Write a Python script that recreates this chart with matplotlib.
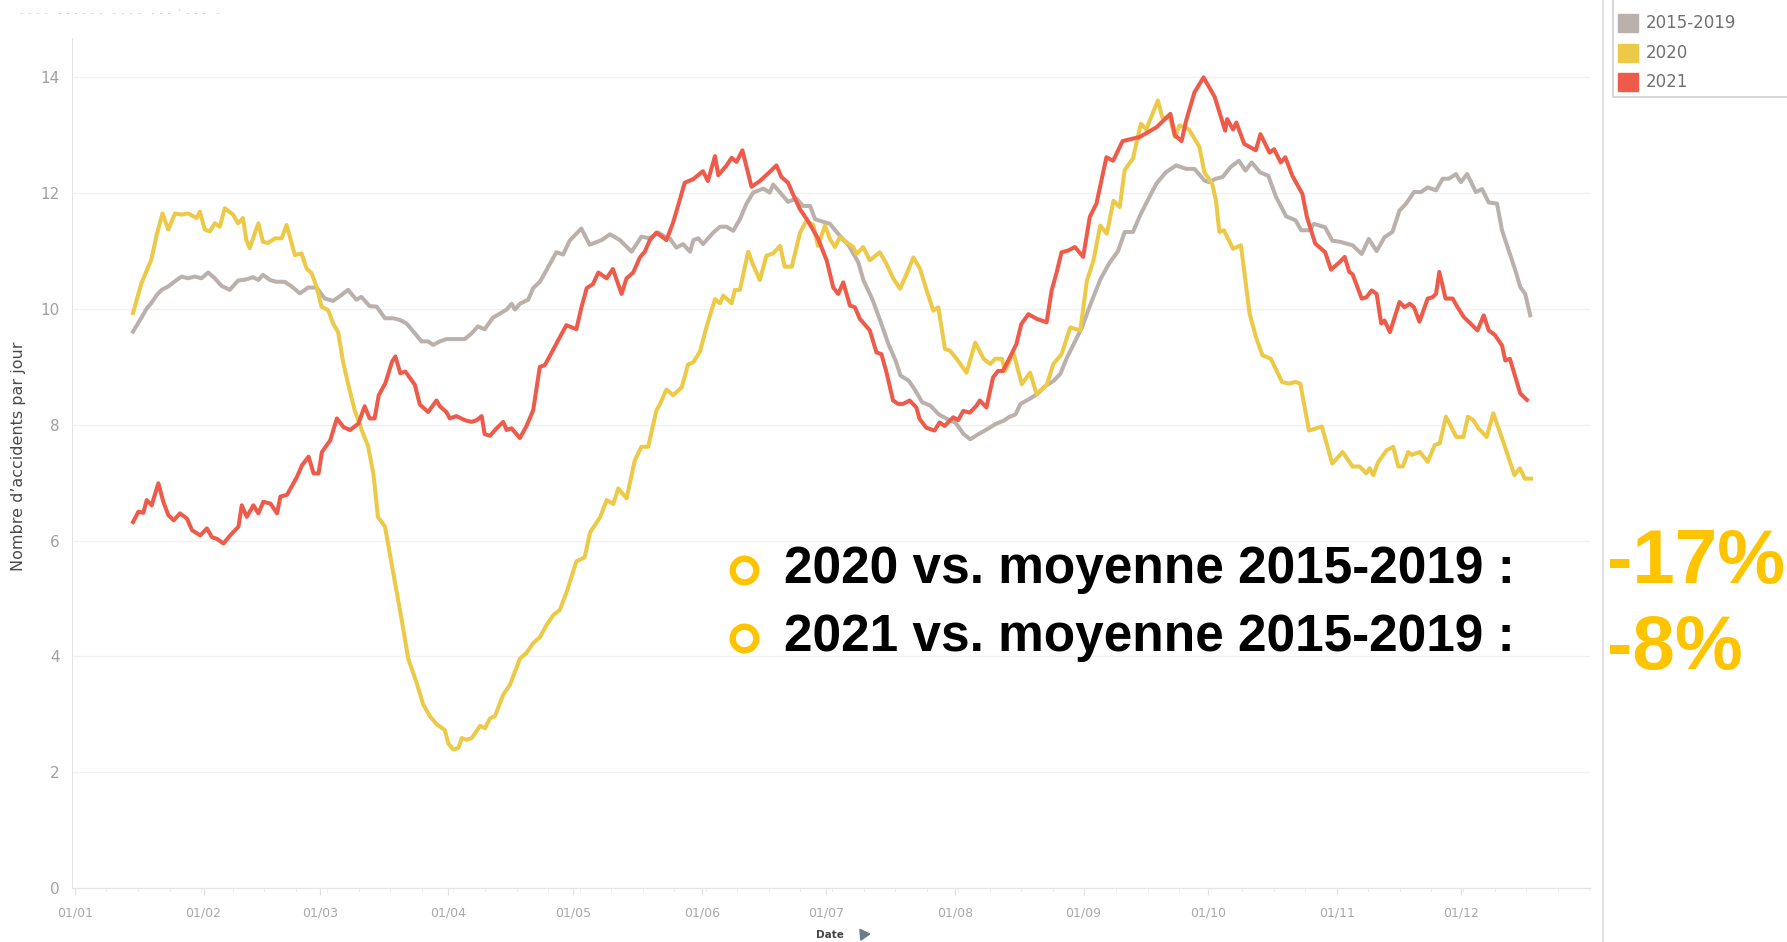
import matplotlib.pyplot as plt
import matplotlib.ticker as mtick
from matplotlib.lines import Line2D
from matplotlib.patches import Rectangle

# Daily accidents, rolling average, x = day of year (0 = 1 January)
days_ref = [
    14.0, 15.7, 17.3, 18.4, 19.7, 20.9, 22.5, 24.5, 25.7, 27.2,
    28.9, 30.5, 32.1, 33.7, 35.3, 37.3, 39.3, 41.3, 42.9, 44.2,
    45.3, 47.0, 48.5, 50.5, 52.2, 54.2, 56.2, 58.2, 60.2, 62.2,
    64.2, 65.8, 67.8, 69.0, 71.0, 72.7, 74.7, 76.6, 78.3, 79.9,
    81.9, 83.5, 85.1, 86.3, 87.9, 89.5, 91.9, 93.9, 95.6, 97.1,
    98.7, 100.7, 102.4, 104.0, 105.2, 106.0, 107.2, 109.2, 110.4, 112.0,
    113.6, 116.0, 117.6, 119.2, 122.0, 124.0, 126.9, 128.9, 131.3, 134.1,
    136.5, 138.5, 140.5, 142.1, 143.3, 144.9, 146.5, 148.2, 149.0, 150.2,
    151.3, 153.8, 155.4, 157.0, 158.6, 160.2, 161.8, 163.4, 165.8, 167.4,
    168.2, 169.9, 171.8, 173.8, 175.4, 177.1, 178.3, 181.9, 184.2, 186.4,
    188.7, 190.0, 192.1, 194.0, 196.0, 197.7, 198.9, 200.9, 202.5, 204.1,
    206.1, 208.1, 210.1, 212.1, 214.1, 215.7, 217.7, 219.7, 221.7, 223.7,
    225.0, 226.6, 227.8, 229.8, 231.8, 233.8, 235.8, 237.4, 239.0, 240.6,
    242.6, 244.7, 247.1, 249.1, 251.3, 252.9, 254.9, 256.5, 258.4, 260.5,
    262.8, 265.3, 267.7, 269.7, 272.1, 273.2, 274.9, 276.5, 278.4, 280.4,
    282.0, 283.5, 285.5, 287.5, 289.4, 291.8, 294.1, 295.4, 297.4, 298.5,
    301.2, 302.9, 304.8, 307.8, 310.0, 311.7, 313.6, 315.5, 317.4, 319.1,
    320.7, 322.6, 324.3, 325.9, 327.9, 329.5, 331.0, 332.7, 333.9, 335.4,
    337.5, 339.0, 340.6, 342.6, 343.8, 347.0, 348.2, 349.4, 350.6,
]
acc_ref = [
    9.61, 9.81, 10.01, 10.1, 10.24, 10.33, 10.39, 10.5, 10.56, 10.53,
    10.56, 10.53, 10.63, 10.53, 10.4, 10.33, 10.49, 10.51, 10.55, 10.5,
    10.59, 10.5, 10.47, 10.47, 10.39, 10.27, 10.37, 10.37, 10.18, 10.14,
    10.24, 10.33, 10.16, 10.21, 10.05, 10.04, 9.84, 9.84, 9.81, 9.75,
    9.58, 9.44, 9.44, 9.38, 9.44, 9.48, 9.48, 9.48, 9.58, 9.7,
    9.65, 9.85, 9.92, 9.99, 10.09, 9.99, 10.09, 10.16, 10.36, 10.47,
    10.67, 10.98, 10.94, 11.18, 11.39, 11.11, 11.19, 11.29, 11.19, 10.99,
    11.25, 11.22, 11.32, 11.25, 11.22, 11.06, 11.12, 10.99, 11.19, 11.22,
    11.12, 11.32, 11.42, 11.42, 11.35, 11.55, 11.82, 12.01, 12.08, 12.01,
    12.15, 12.01, 11.85, 11.91, 11.78, 11.78, 11.55, 11.47, 11.27, 11.1,
    10.81, 10.49, 10.17, 9.8, 9.39, 9.11, 8.85, 8.76, 8.59, 8.39,
    8.33, 8.18, 8.1, 8.04, 7.84, 7.75, 7.84, 7.92, 8.01, 8.07,
    8.13, 8.18, 8.36, 8.44, 8.53, 8.67, 8.76, 8.88, 9.16, 9.39,
    9.68, 10.09, 10.52, 10.78, 11.0, 11.33, 11.33, 11.6, 11.87, 12.16,
    12.36, 12.48, 12.42, 12.42, 12.22, 12.19, 12.25, 12.28, 12.45, 12.56,
    12.39, 12.53, 12.36, 12.3, 11.93, 11.6, 11.53, 11.36, 11.36, 11.47,
    11.41, 11.18, 11.16, 11.1, 10.95, 11.21, 11.0, 11.24, 11.33, 11.7,
    11.82, 12.02, 12.02, 12.1, 12.05, 12.25, 12.25, 12.33, 12.19, 12.33,
    12.02, 12.07, 11.84, 11.82, 11.36, 10.67, 10.38, 10.26, 9.89,
]

days_2020 = [
    14.0, 16.0, 18.4, 19.7, 21.1, 22.5, 24.1, 25.7, 27.3, 29.3,
    30.1, 31.3, 32.5, 33.7, 34.9, 36.1, 38.1, 39.3, 40.5, 41.3,
    42.1, 44.2, 45.3, 46.5, 48.2, 49.8, 51.0, 53.0, 54.6, 55.8,
    57.0, 58.2, 59.4, 61.0, 62.2, 63.4, 64.6, 65.8, 67.4, 69.4,
    70.6, 71.9, 73.0, 74.7, 76.3, 77.9, 78.7, 80.3, 82.3, 83.9,
    85.5, 87.1, 89.1, 90.0, 91.2, 92.4, 93.2, 94.4, 95.6, 97.6,
    98.8, 100.0, 101.2, 103.2, 104.8, 107.2, 108.8, 110.4, 112.0, 113.6,
    115.2, 116.8, 118.5, 120.8, 122.8, 124.1, 126.5, 128.1, 129.7, 130.9,
    132.9, 134.9, 136.5, 138.1, 140.1, 140.9, 142.5, 144.1, 146.2, 147.7,
    149.0, 150.6, 152.2, 154.2, 155.4, 156.2, 158.2, 159.0, 160.2, 162.2,
    163.4, 165.0, 166.6, 168.2, 169.9, 171.0, 172.7, 174.7, 176.2, 177.9,
    179.0, 180.7, 181.9, 183.1, 184.3, 185.9, 187.5, 188.3, 189.9, 191.5,
    193.9, 195.5, 197.2, 198.8, 200.4, 202.0, 203.6, 205.2, 206.8, 208.0,
    209.6, 210.8, 212.4, 214.8, 216.9, 218.9, 220.5, 221.7, 223.3, 224.1,
    226.1, 228.1, 230.1, 231.7, 234.2, 235.7, 237.7, 239.8, 242.2, 243.8,
    245.4, 247.0, 248.6, 250.2, 251.7, 252.9, 254.9, 256.8, 258.1, 259.2,
    260.9, 262.0, 263.8, 265.0, 266.1, 268.4, 270.9, 272.1, 274.0, 274.9,
    275.7, 276.8, 279.0, 280.9, 283.0, 284.5, 286.1, 288.1, 290.8, 292.4,
    294.1, 295.2, 297.3, 300.4, 302.9, 305.4, 307.8, 309.5, 311.1, 311.9,
    312.8, 314.0, 316.0, 317.6, 318.8, 319.9, 321.2, 322.0, 324.0, 325.9,
    327.6, 328.8, 330.3, 332.8, 334.5, 335.6, 336.9, 338.1, 340.1, 341.7,
    343.7, 345.3, 346.8, 348.1, 349.3, 350.8,
]
acc_2020 = [
    9.93, 10.44, 10.85, 11.28, 11.65, 11.37, 11.65, 11.63, 11.65, 11.57,
    11.68, 11.37, 11.34, 11.48, 11.42, 11.74, 11.63, 11.48, 11.57, 11.19,
    11.05, 11.48, 11.16, 11.14, 11.22, 11.22, 11.45, 10.93, 10.96, 10.7,
    10.62, 10.39, 10.04, 9.98, 9.75, 9.6, 9.09, 8.71, 8.25, 7.85,
    7.64, 7.16, 6.41, 6.24, 5.6, 4.97, 4.64, 3.96, 3.55, 3.17,
    2.97, 2.83, 2.73, 2.49, 2.39, 2.42, 2.59, 2.56, 2.59, 2.8,
    2.76, 2.93, 2.97, 3.34, 3.51, 3.96, 4.06, 4.23, 4.33, 4.54,
    4.71, 4.8, 5.12, 5.64, 5.71, 6.14, 6.4, 6.7, 6.63, 6.9,
    6.73, 7.39, 7.62, 7.62, 8.25, 8.35, 8.61, 8.51, 8.65, 9.04,
    9.08, 9.27, 9.7, 10.17, 10.1, 10.23, 10.1, 10.33, 10.33, 10.99,
    10.76, 10.5, 10.92, 10.96, 11.09, 10.73, 10.73, 11.32, 11.52, 11.45,
    11.09, 11.44, 11.21, 11.07, 11.24, 11.15, 11.07, 10.95, 11.07, 10.84,
    10.98, 10.78, 10.52, 10.35, 10.61, 10.89, 10.69, 10.32, 9.97, 10.03,
    9.31, 9.28, 9.14, 8.9, 9.42, 9.14, 9.05, 9.14, 9.14, 8.93,
    9.25, 8.7, 8.9, 8.53, 8.7, 9.05, 9.22, 9.68, 9.63, 10.49,
    10.84, 11.44, 11.3, 11.87, 11.76, 12.4, 12.6, 13.2, 13.1, 13.3,
    13.6, 13.3, 13.3, 12.97, 13.17, 13.1, 12.8, 12.36, 12.16, 11.87,
    11.33, 11.36, 11.04, 11.1, 9.92, 9.52, 9.2, 9.14, 8.74, 8.71,
    8.74, 8.71, 7.9, 7.97, 7.33, 7.53, 7.28, 7.28, 7.16, 7.25,
    7.13, 7.36, 7.56, 7.62, 7.28, 7.28, 7.53, 7.48, 7.53, 7.36,
    7.65, 7.68, 8.14, 7.79, 7.79, 8.14, 8.08, 7.94, 7.79, 8.2,
    7.79, 7.45, 7.13, 7.25, 7.07, 7.07,
]

days_2021 = [
    14.0, 15.3, 16.5, 17.3, 18.5, 20.1, 21.3, 22.5, 23.8, 25.3,
    27.0, 28.2, 30.2, 31.8, 33.0, 34.2, 35.8, 37.4, 39.4, 40.2,
    41.4, 43.0, 44.2, 45.4, 47.1, 48.7, 49.5, 51.1, 53.5, 54.7,
    56.3, 57.5, 58.7, 59.5, 61.5, 63.1, 64.7, 66.3, 68.3, 69.8,
    71.0, 72.2, 73.2, 74.8, 76.4, 77.2, 78.4, 79.6, 80.8, 81.9,
    83.1, 85.1, 87.1, 87.9, 89.5, 90.3, 91.9, 93.9, 95.6, 96.8,
    98.0, 98.7, 100.0, 101.6, 103.2, 104.0, 105.2, 107.2, 108.8, 110.4,
    112.0, 113.2, 114.8, 116.8, 118.4, 120.8, 122.0, 123.3, 124.8, 126.1,
    128.1, 129.6, 131.7, 132.9, 134.5, 136.1, 137.3, 138.5, 140.1, 142.5,
    144.1, 145.7, 146.9, 148.9, 151.3, 152.5, 154.2, 155.0, 157.0, 158.2,
    159.4, 160.8, 163.0, 165.0, 167.0, 169.0, 170.2, 171.8, 173.0, 174.7,
    176.6, 179.0, 181.1, 182.7, 183.9, 185.1, 186.7, 187.9, 189.1, 191.5,
    193.1, 194.3, 195.5, 197.1, 198.3, 199.5, 201.1, 202.7, 203.5, 205.1,
    207.1, 208.3, 209.5, 211.6, 212.8, 214.0, 215.6, 217.2, 218.0, 219.6,
    221.2, 222.4, 223.6, 225.2, 226.8, 228.0, 229.7, 231.7, 234.1, 235.3,
    236.5, 237.7, 239.3, 240.9, 242.9, 244.5, 246.1, 248.5, 250.1, 252.4,
    256.5, 260.6, 263.9, 265.0, 266.6, 267.7, 269.7, 271.9, 274.6, 277.1,
    277.6, 279.0, 279.8, 281.7, 284.5, 285.6, 287.8, 288.9, 290.5, 291.6,
    293.3, 295.7, 296.8, 298.8, 301.2, 302.6, 304.7, 305.9, 307.0, 307.8,
    310.0, 311.1, 312.4, 313.6, 314.7, 315.5, 316.8, 319.1, 320.3, 321.6,
    322.6, 323.9, 325.9, 327.0, 327.9, 328.7, 330.2, 331.9, 333.1, 334.6,
    336.2, 337.9, 339.4, 340.6, 342.1, 343.8, 344.6, 345.7, 347.0, 348.2, 349.8,
]
acc_2021 = [
    6.32, 6.5, 6.48, 6.7, 6.61, 6.99, 6.67, 6.44, 6.35, 6.47,
    6.38, 6.18, 6.09, 6.21, 6.06, 6.03, 5.95, 6.09, 6.24, 6.61,
    6.41, 6.61, 6.47, 6.67, 6.64, 6.47, 6.76, 6.79, 7.1, 7.3,
    7.45, 7.16, 7.16, 7.53, 7.73, 8.11, 7.96, 7.91, 8.02, 8.32,
    8.11, 8.11, 8.51, 8.72, 9.09, 9.18, 8.89, 8.92, 8.8, 8.69,
    8.35, 8.22, 8.42, 8.32, 8.22, 8.11, 8.15, 8.08, 8.05, 8.08,
    8.15, 7.84, 7.81, 7.94, 8.05, 7.91, 7.94, 7.77, 7.98, 8.25,
    9.0, 9.03, 9.24, 9.51, 9.72, 9.65, 10.02, 10.36, 10.43, 10.63,
    10.53, 10.69, 10.26, 10.53, 10.63, 10.89, 10.99, 11.19, 11.32, 11.19,
    11.49, 11.88, 12.18, 12.24, 12.38, 12.21, 12.64, 12.31, 12.48, 12.61,
    12.54, 12.74, 12.11, 12.21, 12.34, 12.48, 12.28, 12.18, 11.98, 11.72,
    11.52, 11.22, 10.84, 10.37, 10.26, 10.46, 10.06, 10.03, 9.83, 9.63,
    9.25, 9.22, 8.91, 8.42, 8.36, 8.36, 8.42, 8.3, 8.1, 7.95,
    7.9, 8.04, 7.98, 8.13, 8.08, 8.24, 8.21, 8.33, 8.42, 8.3,
    8.82, 8.93, 8.93, 9.16, 9.39, 9.74, 9.91, 9.83, 9.77, 10.32,
    10.63, 10.98, 11.01, 11.07, 10.9, 11.59, 11.82, 12.62, 12.56, 12.9,
    12.97, 13.14, 13.37, 13.0, 12.9, 13.25, 13.74, 14.0, 13.66, 13.08,
    13.28, 13.1, 13.22, 12.85, 12.74, 13.02, 12.7, 12.76, 12.53, 12.62,
    12.3, 11.99, 11.59, 11.13, 10.98, 10.68, 10.81, 10.9, 10.64, 10.6,
    10.18, 10.2, 10.32, 10.26, 9.75, 9.8, 9.6, 10.12, 10.03, 10.09,
    10.03, 9.78, 10.18, 10.2, 10.26, 10.64, 10.18, 10.18, 10.03, 9.86,
    9.75, 9.63, 9.89, 9.63, 9.55, 9.37, 9.11, 9.14, 8.83, 8.54, 8.43,
]

month_starts = [0, 31, 59, 90, 120, 151, 181, 212, 243, 273, 304, 334]
month_labels = ["01/01", "01/02", "01/03", "01/04", "01/05", "01/06",
                "01/07", "01/08", "01/09", "01/10", "01/11", "01/12"]
y_ticks = [0, 2, 4, 6, 8, 10, 12, 14]

series_names = ["2015-2019", "2020", "2021"]
series_colors = ["#BAB0AC", "#EDC948", "#EE5B4A"]
comparisons = ["2020 vs. moyenne 2015-2019 :", "2021 vs. moyenne 2015-2019 :"]
comparison_values = ["-17%", "-8%"]

GOLD = "#FFC400"
W, H = 1787, 942

fig = plt.figure(figsize=(W / 100, H / 100), dpi=100)
ax = fig.add_axes([72 / W, 1 - 888 / H, (1590 - 72) / W, (888 - 38) / H])

for name, days, acc, color in zip(
    series_names,
    [days_ref, days_2020, days_2021],
    [acc_ref, acc_2020, acc_2021],
    series_colors,
):
    ax.plot(days, acc, color=color, lw=2.9, solid_joinstyle="round", label=name)

ax.set_xlim(-0.7, 365)
ax.set_ylim(0, 14.68)
ax.set_yticks(y_ticks)
ax.set_xticks(month_starts)
ax.set_xticklabels(month_labels)
ax.xaxis.set_minor_locator(mtick.MultipleLocator(7.6))
ax.grid(axis="y", color="#F0F0F0", lw=1.0)
ax.set_axisbelow(True)
for side in ["top", "right"]:
    ax.spines[side].set_visible(False)
for side in ["left", "bottom"]:
    ax.spines[side].set_color("#E4E4E4")
ax.tick_params(axis="y", length=0, pad=9, labelsize=11, labelcolor="#A0A0A0")
ax.tick_params(axis="x", which="major", length=5, color="#E0E0E0", pad=8,
               labelsize=9, labelcolor="#A8A8A8")
ax.tick_params(axis="x", which="minor", length=3, color="#EAEAEA")

fig.text(19 / W, 1 - 456 / H, "Nombre d’accidents par jour", rotation=90,
         ha="center", va="center", fontsize=11.5, color="#4A4A4A")
fig.text(830 / W, 1 - 935 / H, "Date", ha="center", va="center",
         fontsize=7.5, fontweight="bold", color="#444444")
fig.add_artist(Line2D([863 / W], [1 - 934 / H], marker=(3, 0, 35), ms=9,
                      color="#6B7B8C", transform=fig.transFigure))

# truncated title line at the very top
fig.text(20 / W, 1 - 13 / H,
         "-  -  -  -    -  -  -  -  -  -    -  -  -  -    -  -  -   '  -  -  -    -",
         fontsize=6, color="#C8C8C8", va="center")

# separator and legend pane
fig.add_artist(Line2D([1603 / W, 1603 / W], [0, 1], color="#DCDCDC", lw=1.2,
                      transform=fig.transFigure))
fig.add_artist(Line2D([1613 / W, 1613 / W, 1], [1, 1 - 97 / H, 1 - 97 / H],
                      color="#D0D0D0", lw=1.2, transform=fig.transFigure))
for i, (name, color) in enumerate(zip(series_names, series_colors)):
    yc = 1 - (23 + 29.5 * i) / H
    fig.add_artist(Rectangle((1618 / W, yc - 9 / H), 20 / W, 18 / H,
                             color=color, transform=fig.transFigure))
    fig.text(1646 / W, yc, name, fontsize=12, color="#707070", va="center")

# comparison annotations
for i, (label, value) in enumerate(zip(comparisons, comparison_values)):
    yc = 1 - (570 + 68 * i) / H
    fig.add_artist(Line2D([744 / W], [yc], marker="o", ms=17, mew=4.6,
                          mfc="white", mec=GOLD, transform=fig.transFigure))
    fig.text(784 / W, yc, label, fontsize=37, fontweight="bold",
             color="black", va="center", family="Liberation Sans")
fig.text(1607 / W, 1 - 563 / H, comparison_values[0], fontsize=55,
         fontweight="bold", color=GOLD, va="center", family="Liberation Sans")
fig.text(1607 / W, 1 - 650 / H, comparison_values[1], fontsize=55,
         fontweight="bold", color=GOLD, va="center", family="Liberation Sans")

fig.savefig("out.png", dpi=100, facecolor="white")
